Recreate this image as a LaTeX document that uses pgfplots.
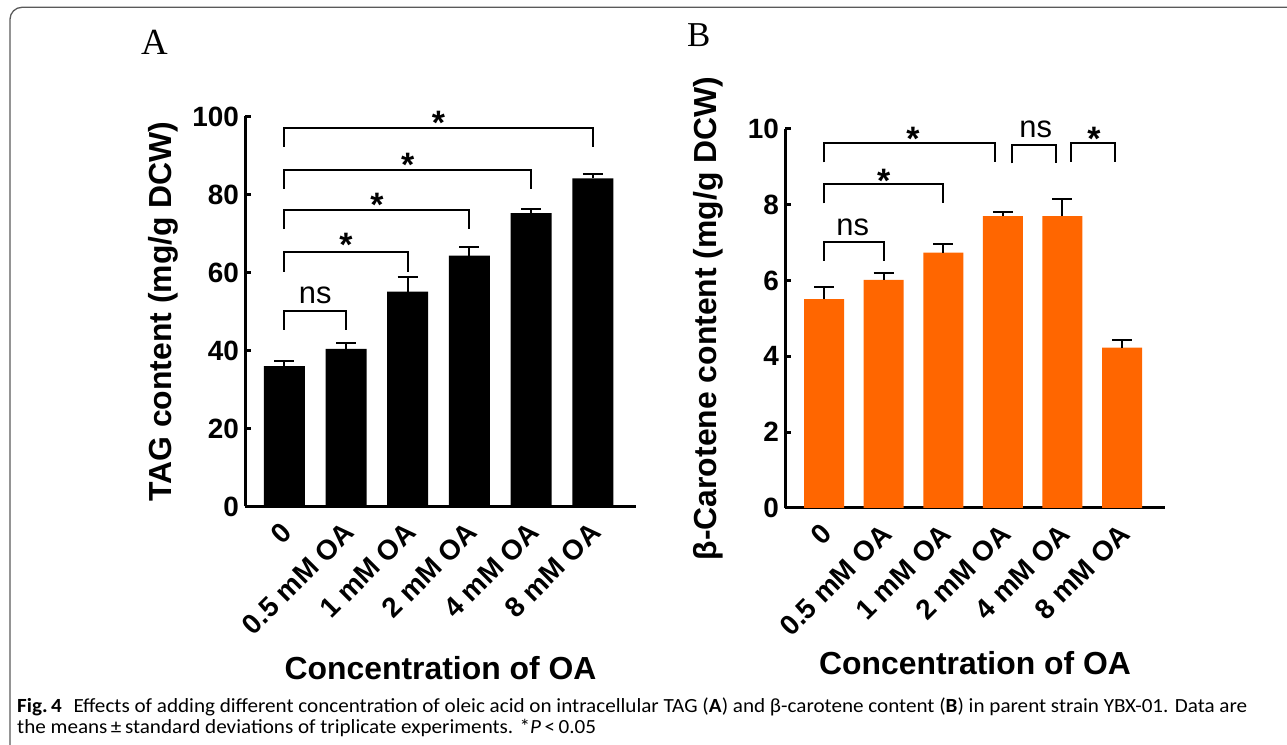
\documentclass[border=0pt]{standalone}
\usepackage{fontspec}
\setmainfont{Liberation Sans}
\newfontfamily\serifletter{Liberation Serif}
\newfontfamily\capfont{Carlito}
\usepackage{pgfplots}
\usepackage{graphicx}
\pgfplotsset{compat=1.18}
\definecolor{barorange}{RGB}{255,102,0}
\definecolor{framegray}{RGB}{90,90,90}
\newcommand\fs[1]{\fontsize{#1}{#1}\selectfont}
\newsavebox\caplineA
\newlength\capw

\pgfplotstableread{
x y e
0 36.0 1.4
1 40.4 1.6
2 55.1 3.8
3 64.3 2.3
4 75.2 1.1
5 84.1 1.2
}\tagdata
\pgfplotstableread{
x y e
0 5.51 0.32
1 6.02 0.17
2 6.74 0.23
3 7.70 0.11
4 7.70 0.44
5 4.23 0.21
}\cardata

\pgfplotsset{
  panel/.style={
    scale only axis,
    axis lines=left,
    axis line style={-, line width=3bp},
    enlarge x limits=false,
    ymin=0,
    xtick={0,1,2,3,4,5},
    xticklabels={0, 0.5 mM OA, 1 mM OA, 2 mM OA, 4 mM OA, 8 mM OA},
    x tick style={draw=none},
    y tick style={line width=3bp, black},
    major tick length=6bp,
    tick align=inside,
    /pgf/number format/assume math mode=true,
    tick label style={font=\bfseries\fs{28}},
    yticklabel style={anchor=east, inner sep=0pt, xshift=-6bp},
    xticklabel style={xshift=3bp, yshift=-21bp, rotate=45, anchor=east, inner sep=0pt},
    clip=false,
    label style={font=\bfseries\fs{32}},
  },
  bracket/.style={black, line width=2bp, sharp plot, mark=none, forget plot},
  errs/.style={error bars/.cd, y dir=plus, y explicit,
    error bar style={line width=2bp, black},
    error mark options={rotate=90, mark size=10bp, line width=2bp, black}},
}
\tikzset{
  star/.style={anchor=base, yshift=-18.4bp, inner sep=0pt, font=\bfseries\fs{34}},
  nslab/.style={anchor=base, inner sep=0pt, font=\fs{31}},
}

\begin{document}
\sbox\caplineA{\capfont\fs{18}\textbf{Fig.\,4}\hspace{0.55em}Effects of adding different concentration of oleic acid on intracellular TAG (\textbf{A}) and β-carotene content (\textbf{B}) in parent strain YBX-01. Data are}%
\setlength\capw{\wd\caplineA}%
\pgfmathsetmacro\capscale{1230bp/\capw}%
\begin{tikzpicture}[x=1bp, y=1bp]
\path[use as bounding box] (0,0) rectangle (1287,745);

% frame
\draw[framegray, line width=1.3bp, rounded corners=12bp] (10,-10) -- (10,737.7) -- (1300,737.7);

% panel letters
\node[anchor=base west, inner sep=0pt, font=\serifletter\fs{37}] at (141,690.7) {A};
\node[anchor=base west, inner sep=0pt, font=\serifletter\fs{35}] at (687,698.3) {B};

% Panel A
\begin{axis}[panel, at={(245bp,238.5bp)}, anchor=south west,
  width=391bp, height=390bp,
  xmin=-0.637, xmax=5.70, ymax=100,
  ytick={0,20,40,60,80,100},
  ylabel={TAG content (mg/g DCW)},
  ylabel style={at={(axis description cs:-0.2097,0.5)}, anchor=center},
  xlabel={Concentration of OA},
  xlabel style={at={(axis description cs:0.5,-0.4438)}, anchor=base},
]
\addplot[ybar, bar width=41bp, fill=black, draw=none, errs]
  table[x=x, y=y, y error=e] {\tagdata};
\addplot[bracket] coordinates {(0,45.3) (0,50.15) (1,50.15) (1,45.3)};
\addplot[bracket] coordinates {(0,60.2) (0,65.3) (2,65.3) (2,60.2)};
\addplot[bracket] coordinates {(0,71.1) (0,76.1) (3,76.1) (3,71.1)};
\addplot[bracket] coordinates {(0,81.5) (0,86.3) (4,86.3) (4,81.5)};
\addplot[bracket] coordinates {(0,92.3) (0,97.0) (5,97.0) (5,92.3)};
\node[nslab] at (axis cs:0.5,51.95) {ns};
\node[star] at (axis cs:1.0,68.8) {*};
\node[star] at (axis cs:1.5,79.1) {*};
\node[star] at (axis cs:2.0,89.3) {*};
\node[star] at (axis cs:2.5,100.2) {*};
\end{axis}

% Panel B
\begin{axis}[panel, at={(785bp,237bp)}, anchor=south west,
  width=380bp, height=379bp,
  xmin=-0.655, xmax=5.72, ymax=10,
  ytick={0,2,4,6,8,10},
  ylabel={β-Carotene content (mg/g DCW)},
  ylabel style={at={(axis description cs:-0.2026,0.5)}, anchor=center},
  xlabel={Concentration of OA},
  xlabel style={at={(axis description cs:0.5,-0.4406)}, anchor=base},
]
\addplot[ybar, bar width=40bp, fill=barorange, draw=none, errs]
  table[x=x, y=y, y error=e] {\cardata};
\addplot[bracket] coordinates {(0,6.52) (0,7.03) (1,7.03) (1,6.52)};
\addplot[bracket] coordinates {(0,8.04) (0,8.54) (2,8.54) (2,8.04)};
\addplot[bracket] coordinates {(0,9.12) (0,9.62) (2.87,9.62) (2.87,9.12)};
\addplot[bracket] coordinates {(3.15,9.09) (3.15,9.58) (3.89,9.58) (3.89,9.09)};
\addplot[bracket] coordinates {(4.14,9.13) (4.14,9.62) (4.885,9.62) (4.885,9.13)};
\node[nslab] at (axis cs:0.48,7.195) {ns};
\node[nslab] at (axis cs:3.55,9.78) {ns};
\node[star] at (axis cs:1.0,8.81) {*};
\node[star] at (axis cs:1.49,9.91) {*};
\node[star] at (axis cs:4.53,9.91) {*};
\end{axis}

% caption
\node[anchor=base west, inner sep=0pt] at (17,32.3) {\scalebox{\capscale}[1.12]{\usebox\caplineA}};
\node[anchor=base west, inner sep=0pt] at (17,11) {\scalebox{\capscale}[1.12]{\capfont\fs{18}the means\,±\,standard deviations of triplicate experiments. *\textit{P}\,<\,0.05}};
\end{tikzpicture}
\end{document}
